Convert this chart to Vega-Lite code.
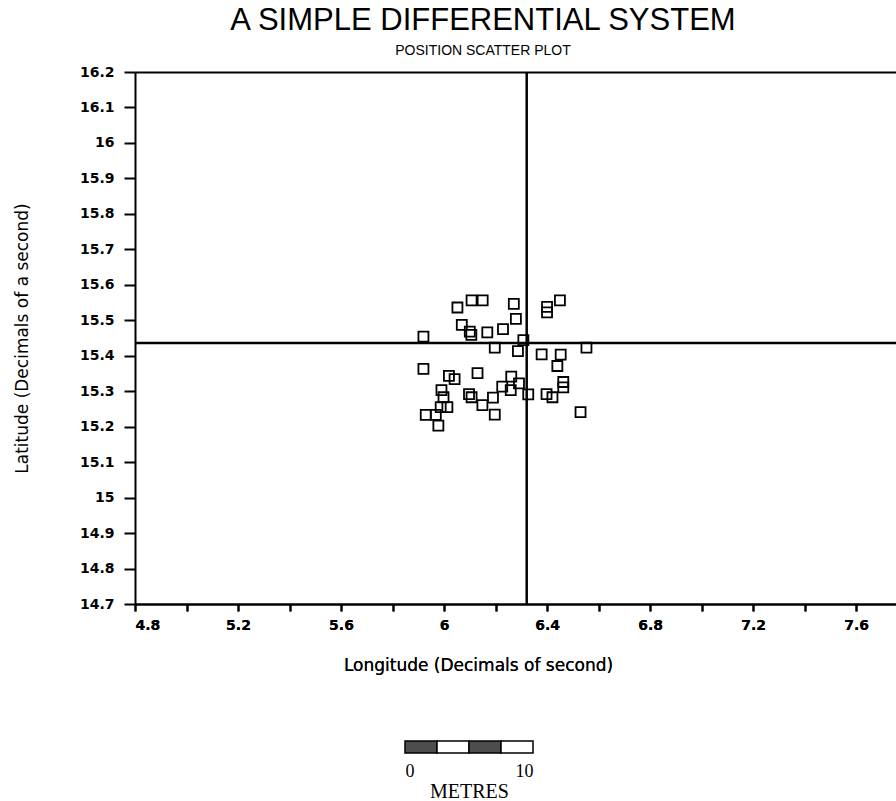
{
  "$schema": "https://vega.github.io/schema/vega-lite/v6.json",
  "width": 761,
  "height": 532,
  "autosize": {"type": "none"},
  "padding": {"left": 135, "top": 72, "right": 0, "bottom": 197},
  "background": "white",
  "config": {"view": {"stroke": null}, "font": "DejaVu Sans"},
  "title": {
    "text": "A SIMPLE DIFFERENTIAL SYSTEM",
    "subtitle": "POSITION SCATTER PLOT",
    "anchor": "start",
    "align": "center",
    "dx": 348,
    "frame": "group",
    "font": "Liberation Sans",
    "fontSize": 31,
    "fontWeight": "normal",
    "color": "black",
    "subtitleFont": "Liberation Sans",
    "subtitleFontSize": 14,
    "subtitleColor": "black",
    "subtitlePadding": 7,
    "offset": 6
  },
  "layer": [
    {
      "encoding": {
        "x": {
          "field": "lon", "type": "quantitative",
          "scale": {"domain": [4.8, 7.755], "nice": false, "zero": false},
          "axis": {
            "orient": "bottom",
            "values": [4.8, 5.0, 5.2, 5.4, 5.6, 5.8, 6.0, 6.2, 6.4, 6.6, 6.8, 7.0, 7.2, 7.4, 7.6],
            "format": "~g",
            "labelExpr": "round(datum.value * 10) % 4 == 0 ? datum.label : ''",
            "labelOverlap": false,
            "grid": false,
            "ticks": true,
            "zindex": 2,
            "domainColor": "black", "domainWidth": 2,
            "tickColor": "black", "tickWidth": 2, "tickSize": 7, "tickOpacity": 1,
            "labelFont": "DejaVu Sans", "labelFontSize": 14, "labelFontWeight": "bold", "labelColor": "black",
            "labelPadding": 7,
            "title": "Longitude (Decimals of second)",
            "titleFont": "DejaVu Sans", "titleFontSize": 17, "titleFontWeight": "normal", "titleColor": "black",
            "titleX": 343, "titleY": 61, "titleAlign": "center", "titleBaseline": "middle"
          }
        },
        "y": {
          "field": "lat", "type": "quantitative",
          "scale": {"domain": [14.7, 16.2], "nice": false, "zero": false},
          "axis": {
            "values": [14.7, 14.8, 14.9, 15.0, 15.1, 15.2, 15.3, 15.4, 15.5, 15.6, 15.7, 15.8, 15.9, 16.0, 16.1, 16.2],
            "format": "~g",
            "labelOverlap": false,
            "grid": false,
            "ticks": true,
            "zindex": 2,
            "domainColor": "black", "domainWidth": 2,
            "tickColor": "black", "tickWidth": 2, "tickSize": 11, "tickOpacity": 1,
            "labelFont": "DejaVu Sans", "labelFontSize": 14, "labelFontWeight": "bold", "labelColor": "black",
            "labelPadding": 10,
            "title": "Latitude (Decimals of a second)",
            "titleFont": "DejaVu Sans", "titleFontSize": 17, "titleFontWeight": "normal", "titleColor": "black",
            "titleAngle": -90, "titleX": -113, "titleY": 266, "titleAlign": "center", "titleBaseline": "middle"
          }
        }
      },
      "layer": [
        {
          "data": {
            "values": [
              {"lon": 5.92, "lat": 15.454}, {"lon": 6.052, "lat": 15.536}, {"lon": 6.107, "lat": 15.556},
              {"lon": 6.15, "lat": 15.556}, {"lon": 6.271, "lat": 15.546}, {"lon": 6.45, "lat": 15.556},
              {"lon": 6.4, "lat": 15.538}, {"lon": 6.4, "lat": 15.522}, {"lon": 6.279, "lat": 15.504},
              {"lon": 6.069, "lat": 15.487}, {"lon": 6.1, "lat": 15.468}, {"lon": 6.106, "lat": 15.459},
              {"lon": 6.168, "lat": 15.466}, {"lon": 6.229, "lat": 15.475}, {"lon": 6.308, "lat": 15.444},
              {"lon": 6.197, "lat": 15.423}, {"lon": 6.287, "lat": 15.413}, {"lon": 6.379, "lat": 15.404},
              {"lon": 6.453, "lat": 15.403}, {"lon": 6.44, "lat": 15.371}, {"lon": 6.553, "lat": 15.423},
              {"lon": 5.92, "lat": 15.363}, {"lon": 6.019, "lat": 15.343}, {"lon": 6.041, "lat": 15.334},
              {"lon": 6.13, "lat": 15.351}, {"lon": 5.99, "lat": 15.303}, {"lon": 5.998, "lat": 15.283},
              {"lon": 5.987, "lat": 15.255}, {"lon": 6.013, "lat": 15.255}, {"lon": 5.929, "lat": 15.233},
              {"lon": 5.968, "lat": 15.233}, {"lon": 5.978, "lat": 15.203}, {"lon": 6.097, "lat": 15.292},
              {"lon": 6.107, "lat": 15.283}, {"lon": 6.149, "lat": 15.261}, {"lon": 6.19, "lat": 15.282},
              {"lon": 6.197, "lat": 15.234}, {"lon": 6.226, "lat": 15.313}, {"lon": 6.261, "lat": 15.341},
              {"lon": 6.291, "lat": 15.322}, {"lon": 6.259, "lat": 15.303}, {"lon": 6.327, "lat": 15.291},
              {"lon": 6.398, "lat": 15.292}, {"lon": 6.421, "lat": 15.283}, {"lon": 6.463, "lat": 15.326},
              {"lon": 6.463, "lat": 15.311}, {"lon": 6.53, "lat": 15.241}
            ]
          },
          "mark": {"type": "point", "shape": "square", "filled": false, "size": 100, "strokeWidth": 1.8, "color": "black", "opacity": 1}
        },
        {
          "data": {
            "values": [
              {"lon": 6.321, "lon2": 6.321, "lat": 14.7, "lat2": 16.2},
              {"lon": 4.8, "lon2": 7.8, "lat": 15.436, "lat2": 15.436}
            ]
          },
          "mark": {"type": "rule", "color": "black", "strokeWidth": 2.5, "clip": true},
          "encoding": {
            "x2": {"field": "lon2"},
            "y2": {"field": "lat2"}
          }
        },
        {
          "data": {"values": [{"lon": 6.321, "lat": 16.2}]},
          "mark": {"type": "point", "opacity": 0},
          "encoding": {
            "x": {
              "field": "lon", "type": "quantitative",
              "axis": {"orient": "top", "labels": false, "ticks": false, "title": null, "grid": false, "domainColor": "black", "domainWidth": 2}
            }
          }
        }
      ]
    },
    {
      "data": {
        "values": [
          {"m0": 0, "m1": 2.5, "shade": "dark"},
          {"m0": 2.5, "m1": 5, "shade": "light"},
          {"m0": 5, "m1": 7.5, "shade": "dark"},
          {"m0": 7.5, "m1": 10, "shade": "light"}
        ]
      },
      "mark": {"type": "rect", "stroke": "black", "strokeWidth": 1.5},
      "encoding": {
        "x": {
          "field": "m0", "type": "quantitative",
          "scale": {"domain": [-21.094, 38.359], "nice": false, "zero": false},
          "axis": {
            "orient": "bottom", "offset": 150, "values": [0, 10],
            "domain": false, "ticks": false, "tickSize": 0, "grid": false,
            "labelFont": "Liberation Serif", "labelFontSize": 18, "labelColor": "black", "labelPadding": 8,
            "labelAlign": {"condition": {"test": "datum.value == 0", "value": "left"}, "value": "right"},
            "title": "METRES", "titleFont": "Liberation Serif", "titleFontSize": 20, "titleFontWeight": "normal",
            "titleColor": "black", "titleX": 334, "titlePadding": 1
          }
        },
        "x2": {"field": "m1"},
        "y": {"datum": 0, "type": "quantitative", "scale": {"domain": [0, 1], "range": [681, 669]}, "axis": null},
        "y2": {"datum": 1},
        "fill": {"field": "shade", "type": "nominal", "scale": {"domain": ["dark", "light"], "range": ["#4d4d4d", "#ffffff"]}, "legend": null}
      }
    }
  ],
  "resolve": {"scale": {"x": "independent", "y": "independent"}}
}
